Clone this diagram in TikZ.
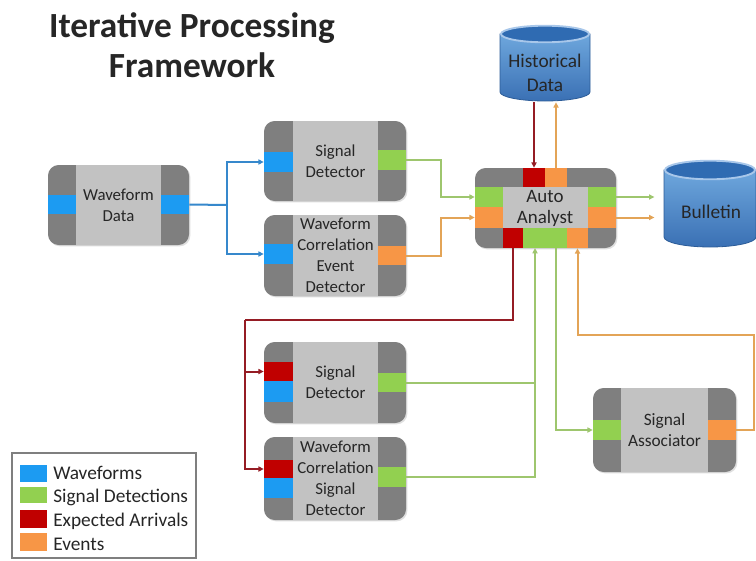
\documentclass[tikz,border=0pt]{standalone}
\usepackage{fontspec}
\setmainfont{Carlito}
\usetikzlibrary{fit,shadows,arrows.meta}
\definecolor{dgray}{HTML}{7F7F7F}
\definecolor{lgray}{HTML}{C2C2C2}
\definecolor{cblue}{HTML}{1C9BF2}
\definecolor{cgreen}{HTML}{92D050}
\definecolor{cred}{HTML}{C00000}
\definecolor{corange}{HTML}{F79646}
\definecolor{lblue}{HTML}{3688CC}
\definecolor{lgreen}{HTML}{9EC66E}
\definecolor{lred}{HTML}{951C24}
\definecolor{lorange}{HTML}{E3A457}
\definecolor{txt}{HTML}{262626}
\definecolor{cyltop}{HTML}{2F6BB2}
\definecolor{cylrim}{HTML}{A8C7EA}
\definecolor{cyla}{HTML}{6EA7DD}
\definecolor{cylb}{HTML}{3A70B4}
\definecolor{cylline}{HTML}{2C5C98}
\begin{document}
\begin{tikzpicture}[x=0.75pt,y=-0.75pt,
  boxouter/.style={fill=dgray, rounded corners=8pt, inner sep=0pt,
    drop shadow={opacity=0.25, shadow xshift=1pt, shadow yshift=-1pt}},
  boxmid/.style={fill=lgray, inner sep=0pt},
  port/.style={inner sep=0pt},
  btxt/.style={inner sep=0pt, align=center, text=txt, font=\fontsize{12.6}{15.8}\selectfont},
  bigtxt/.style={inner sep=0pt, align=center, text=txt, font=\fontsize{14.2}{15.8}\selectfont},
  legtxt/.style={inner sep=0pt, text=txt, font=\fontsize{14.5}{17}\selectfont, anchor=base west},
  ttl/.style={inner sep=0pt, text=txt, font=\fontsize{26.5}{30}\selectfont\bfseries, anchor=base},
  arr/.style={-{Triangle[length=4pt,width=3.8pt]}},
  wb/.style={draw=lblue, line width=1.5pt},
  wg/.style={draw=lgreen, line width=1.5pt},
  wr/.style={draw=lred, line width=1.5pt},
  wo/.style={draw=lorange, line width=1.5pt},
]
\clip (0,0) rectangle (756,560);
\fill[white] (0,0) rectangle (756,560);

% Title
\node (t1) [ttl] at (192,38) {Iterative Processing};
\node (t2) [ttl] at (192,78) {Framework};

% Waveform Data
\node (wd) [boxouter, fit={(48,165)(189,245)}] {};
\node (wdm) [boxmid, fit={(76,165)(161,245)}] {};
\node (wdL) [port, fill=cblue, fit={(48,195)(76,214)}] {};
\node (wdR) [port, fill=cblue, fit={(161,195)(189,214)}] {};
\node (wdt) [btxt] at (wdm.center) {Waveform\\Data};

% Signal Detector (top)
\node (sd1) [boxouter, fit={(264,121)(406,201)}] {};
\node (sd1m) [boxmid, fit={(293,121)(378,201)}] {};
\node (sd1L) [port, fill=cblue, fit={(264,152)(293,172)}] {};
\node (sd1R) [port, fill=cgreen, fit={(378,150)(406,170)}] {};
\node (sd1t) [btxt] at (sd1m.center) {Signal\\Detector};

% Waveform Correlation Event Detector
\node (wce) [boxouter, fit={(264,215)(406,296)}] {};
\node (wcem) [boxmid, fit={(293,215)(378,296)}] {};
\node (wceL) [port, fill=cblue, fit={(264,244)(293,264)}] {};
\node (wceR) [port, fill=corange, fit={(378,246)(406,265)}] {};
\node (wcet) [btxt] at (wcem.center) {Waveform\\Correlation\\Event\\Detector};

% Signal Detector (bottom)
\node (sd2) [boxouter, fit={(264,342)(406,423)}] {};
\node (sd2m) [boxmid, fit={(293,342)(378,423)}] {};
\node (sd2Lr) [port, fill=cred, fit={(264,362)(293,381)}] {};
\node (sd2Lb) [port, fill=cblue, fit={(264,381)(293,402)}] {};
\node (sd2R) [port, fill=cgreen, fit={(378,373)(406,392)}] {};
\node (sd2t) [btxt] at (sd2m.center) {Signal\\Detector};

% Waveform Correlation Signal Detector
\node (wcs) [boxouter, fit={(264,437)(406,520)}] {};
\node (wcsm) [boxmid, fit={(293,437)(378,520)}] {};
\node (wcsLr) [port, fill=cred, fit={(264,460)(293,478)}] {};
\node (wcsLb) [port, fill=cblue, fit={(264,478)(293,498)}] {};
\node (wcsR) [port, fill=cgreen, fit={(378,467)(406,487)}] {};
\node (wcst) [btxt] at (wcsm.center) {Waveform\\Correlation\\Signal\\Detector};

% Auto Analyst
\node (aa) [boxouter, fit={(475,168)(616,248)}] {};
\node (aam) [boxmid, fit={(503,187)(588,228)}] {};
\node (aaTr) [port, fill=cred, fit={(523,168)(545,187)}] {};
\node (aaTo) [port, fill=corange, fit={(545,168)(567,187)}] {};
\node (aaLg) [port, fill=cgreen, fit={(475,187)(503,207)}] {};
\node (aaLo) [port, fill=corange, fit={(475,207)(503,228)}] {};
\node (aaRg) [port, fill=cgreen, fit={(588,187)(616,207)}] {};
\node (aaRo) [port, fill=corange, fit={(588,207)(616,228)}] {};
\node (aaBr) [port, fill=cred, fit={(503,228)(523,248)}] {};
\node (aaBg) [port, fill=cgreen, fit={(523,228)(567,248)}] {};
\node (aaBo) [port, fill=corange, fit={(567,228)(588,248)}] {};
\node (aat) [bigtxt] at (545,208) {Auto\\Analyst};

% Signal Associator
\node (sa) [boxouter, fit={(593,388)(736,472)}] {};
\node (sam) [boxmid, fit={(621,388)(708,472)}] {};
\node (saL) [port, fill=cgreen, fit={(593,420)(621,440)}] {};
\node (saR) [port, fill=corange, fit={(708,420)(736,440)}] {};
\node (sat) [btxt, font=\fontsize{13}{16.2}\selectfont] at (sam.center) {Signal\\Associator};

% Historical Data cylinder
\node (hd) [inner sep=0pt, fit={(500,25)(590,102)}] {};
\path[top color=cyla, bottom color=cylb, draw=cylline, line width=0.6pt]
  (500,34) -- (500,92) arc[start angle=180, end angle=0, x radius=45, y radius=9] -- (590,34) -- cycle;
\path[fill=cyltop, draw=cylrim, line width=1.4pt] (545,34) ellipse [x radius=44, y radius=8.3];
\node (hdt) [bigtxt, font=\fontsize{14.5}{18.5}\selectfont] at (545,73) {Historical\\Data};

% Bulletin cylinder
\node (bul) [inner sep=0pt, fit={(664,160)(756,247)}] {};
\path[top color=cyla, bottom color=cylb, draw=cylline, line width=0.6pt]
  (664,170) -- (664,237) arc[start angle=180, end angle=0, x radius=46, y radius=10] -- (756,170) -- cycle;
\path[fill=cyltop, draw=cylrim, line width=1.4pt] (710,170) ellipse [x radius=45, y radius=9.3];
\node (bult) [bigtxt, font=\fontsize{14.5}{18.5}\selectfont] at (711,212) {Bulletin};

% Connectors: waveforms
\coordinate (bsplit) at (227,205);
\draw[wb] (wdR.east) -- (bsplit);
\draw[wb, arr] (bsplit) |- (sd1L.west);
\draw[wb, arr] (bsplit) |- (wceL.west);

% detections / events into Auto Analyst
\draw[wg, arr] (sd1R.east) -- ++(35,0) |- (aaLg.west);
\draw[wo, arr] (wceR.east) -- ++(35,0) |- (aaLo.west);

% Historical data
\draw[wr, arr] (aaTr.north |- hd.south) -- (aaTr.north);
\draw[wo, arr] (aaTo.north) -- (aaTo.north |- hd.south);

% outputs to bulletin
\draw[wg, arr, shorten >=7pt] (aaRg.east) -- (aaRg.east -| bul.west);
\draw[wo, arr, shorten >=7pt] (aaRo.east) -- (aaRo.east -| bul.west);

% expected arrivals
\coordinate (rsplit) at (245,320);
\draw[wr] (aaBr.south) |- (rsplit);
\draw[wr, arr] (rsplit) |- (sd2Lr.west);
\draw[wr, arr] (rsplit) |- (wcsLr.west);

% signal detections back to Auto Analyst
\coordinate (gin) at (535,248);
\coordinate (gout) at (556,248);
\draw[wg, arr] (wcsR.east) -| (gin);
\draw[wg] (sd2R.east) -- (sd2R.east -| gin);
\draw[wg, arr] (gout) |- (saL.west);

% events loop
\coordinate (oc) at (754,335);
\draw[wo, arr] (saR.east) -| (oc) -| (aaBo.south);

% Legend
\node (leg) [draw=dgray, line width=0.8pt, inner sep=0pt, fit={(12,453)(196,558)}] {};
\node (ls1) [port, fill=cblue, fit={(20,465)(47,482)}] {};
\node (ls2) [port, fill=cgreen, fit={(20,487)(47,503)}] {};
\node (ls3) [port, fill=cred, fit={(20,510)(47,528)}] {};
\node (ls4) [port, fill=corange, fit={(20,533)(47,551)}] {};
\node (lt1) [legtxt] at (53,479) {Waveforms};
\node (lt2) [legtxt] at (53,502) {Signal Detections};
\node (lt3) [legtxt] at (53,526) {Expected Arrivals};
\node (lt4) [legtxt] at (53,550) {Events};
\end{tikzpicture}
\end{document}
